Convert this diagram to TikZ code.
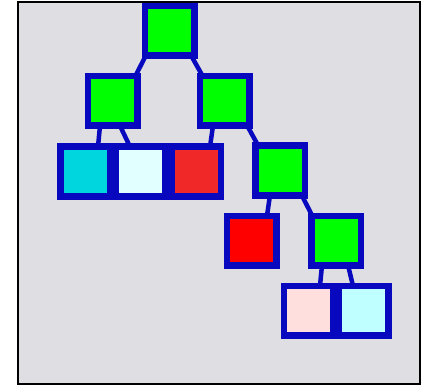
\documentclass[tikz,border=0pt]{standalone}
\begin{document}
\begin{tikzpicture}[x=1pt,y=-1pt,
  box/.style={draw=nodeblue,line width=6.5pt,minimum width=49.5pt,minimum height=49.5pt,inner sep=0pt,outer sep=0pt},
  link/.style={draw=nodeblue,line width=4.5pt}]
\definecolor{nodeblue}{RGB}{8,8,190}
\definecolor{bggray}{RGB}{223,222,227}
\definecolor{gr}{RGB}{0,255,0}
\definecolor{cyanleaf}{RGB}{0,214,222}
\definecolor{paleleaf}{RGB}{226,255,255}
\definecolor{redA}{RGB}{240,40,40}
\definecolor{redB}{RGB}{255,0,0}
\definecolor{pinkleaf}{RGB}{255,222,222}
\definecolor{lcyan}{RGB}{192,255,255}
\useasboundingbox (0,0) rectangle (423,385);
\fill[white] (0,0) rectangle (423,385);
\draw[fill=bggray,line width=2pt] (18,2) rectangle (419.5,383.5);
% nodes
\node[box,fill=gr] (root) at (169.5,31) {};
\node[box,fill=gr] (L) at (112.5,101) {};
\node[box,fill=gr] (R) at (224.5,101) {};
\node[box,fill=cyanleaf] (l1) at (85,171.5) {};
\node[box,fill=paleleaf] (l2) at (140.5,171.5) {};
\node[box,fill=redA] (l3) at (196,171.5) {};
\node[box,fill=gr] (RR) at (280,170.5) {};
\node[box,fill=redB] (l4) at (251.5,240.5) {};
\node[box,fill=gr] (RRR) at (336,240.5) {};
\node[box,fill=pinkleaf] (l5) at (308.5,310.5) {};
\node[box,fill=lcyan] (l6) at (363.5,310.5) {};
% connectors
\draw[link] ([xshift=1pt]root.south west) -- ([xshift=-2pt]L.north east);
\draw[link] ([xshift=-3pt]root.south east) -- ([xshift=3pt]R.north west);
\draw[link] ([xshift=-12.5pt]L.south) -- ([xshift=13pt]l1.north);
\draw[link] ([xshift=7.5pt]L.south) -- ([xshift=-10.5pt]l2.north);
\draw[link] ([xshift=-11.5pt]R.south) -- ([xshift=14pt]l3.north);
\draw[link] ([xshift=-2pt]R.south east) -- ([xshift=3pt]RR.north west);
\draw[link] ([xshift=-10pt]RR.south) -- ([xshift=15.5pt]l4.north);
\draw[link] ([xshift=-3pt]RR.south east) -- ([xshift=1pt]RRR.north west);
\draw[link] ([xshift=-14pt]RRR.south) -- ([xshift=11.5pt]l5.north);
\draw[link] ([xshift=12pt]RRR.south) -- ([xshift=-10.5pt]l6.north);
\end{tikzpicture}
\end{document}
